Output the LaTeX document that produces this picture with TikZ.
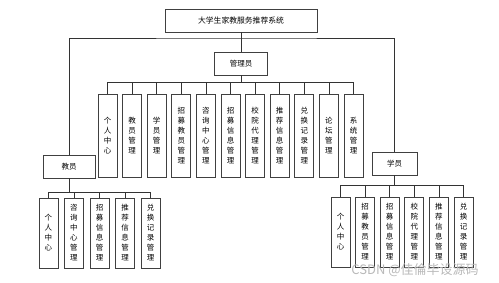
\documentclass[tikz,border=0pt]{standalone}
\usepackage{fontspec}
\newfontfamily\cjk{Noto Sans CJK SC}
\tikzset{
  box/.style={draw=black!75, line width=0.7pt, inner sep=0pt, align=center,
    font=\cjk\fontsize{7.5}{10}\selectfont},
  hbox/.style={box, minimum height=23pt},
  vbox/.style={box, minimum width=19pt},
  conn/.style={draw=black!80, line width=0.7pt},
}
\begin{document}
\begin{tikzpicture}[x=1pt,y=-1pt]
\useasboundingbox (0,0) rectangle (499,283);
% top level
\node[hbox, minimum width=152pt, font=\cjk\fontsize{7.8}{10}\selectfont] (top) at (241,20.5) {大学生家教服务推荐系统};
\node[hbox, minimum width=53pt] (adm) at (241,63.5) {管理员};
\node[hbox, minimum width=52pt] (tea) at (69,166.5) {教员};
\node[hbox, minimum width=45pt] (stu) at (394.5,163.5) {学员};
\coordinate (bus1) at (241,38);
\coordinate (abus) at (241,82);
\coordinate (tbus) at (69,192);
\coordinate (sbus) at (394.5,185);

\draw[conn] (top.south) -- (adm.north);
\draw[conn] (tea.north) |- (bus1) -| (stu.north);

% admin children
\foreach \i/\t in {1/个\\人\\中\\心, 2/教\\员\\管\\理, 3/学\\员\\管\\理, 4/招\\募\\教\\员\\管\\理,
  5/咨\\询\\中\\心\\管\\理, 6/招\\募\\信\\息\\管\\理, 7/校\\院\\代\\理\\管\\理, 8/推\\荐\\信\\息\\管\\理,
  9/兑\\换\\记\\录\\管\\理, 10/论\\坛\\管\\理, 11/系\\统\\管\\理}{
  \node[vbox, minimum height=83pt] (a\i) at ({107.5+24.6*(\i-1)},135.5) {\t};
  \draw[conn] (a\i.north) -- (a\i.north |- abus);
}
\draw[conn] (adm.south) -- (abus);
\draw[conn] (a1.north |- abus) -- (a11.north |- abus);

% teacher children
\foreach \i/\t in {1/个\\人\\中\\心, 2/咨\\询\\中\\心\\管\\理, 3/招\\募\\信\\息\\管\\理,
  4/推\\荐\\信\\息\\管\\理, 5/兑\\换\\记\\录\\管\\理}{
  \node[vbox, minimum height=70pt] (t\i) at ({48.5+25.5*(\i-1)},233) {\t};
  \draw[conn] (t\i.north) -- (t\i.north |- tbus);
}
\draw[conn] (tea.south) -- (tbus);
\draw[conn] (t1.north |- tbus) -- (t5.north |- tbus);

% student children
\foreach \i/\t in {1/个\\人\\中\\心, 2/招\\募\\教\\员\\管\\理, 3/招\\募\\信\\息\\管\\理,
  4/校\\院\\代\\理\\管\\理, 5/推\\荐\\信\\息\\管\\理, 6/兑\\换\\记\\录\\管\\理}{
  \node[vbox, minimum height=70pt] (s\i) at ({340.5+24.6*(\i-1)},232) {\t};
  \draw[conn] (s\i.north) -- (s\i.north |- sbus);
}
\draw[conn] (stu.south) -- (sbus);
\draw[conn] (s1.north |- sbus) -- (s6.north |- sbus);

% watermark
\node[font=\cjk\fontsize{13}{14}\selectfont, text=gray!55, inner sep=0pt] (wm) at (415,270) {CSDN @佳倫毕设源码};
\end{tikzpicture}
\end{document}
